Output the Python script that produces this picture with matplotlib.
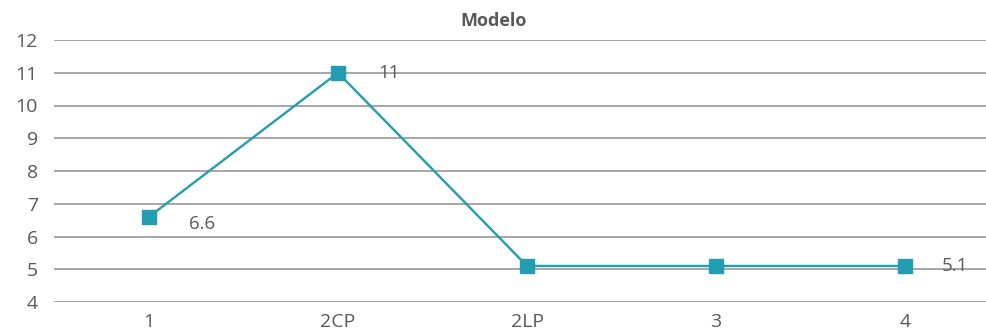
import matplotlib
matplotlib.use("Agg")
from matplotlib import pyplot as plt
import numpy as np

# Series
categories = ["1", "2CP", "2LP", "3", "4"]
values = [6.6, 11, 5.1, 5.1, 5.1]
label_text = ["6.6", "11", "", "", "5.1"]
label_offsets = [(38, -5), (37, 0), (0, 0), (0, 0), (36, 0)]

line_color = "#239DB1"
grid_color = "#A6A6A6"
text_color = "#595959"

plt.rcParams["font.family"] = ["Open Sans", "DejaVu Sans"]

fig = plt.figure(figsize=(9.87, 3.35), dpi=100)
ax = fig.add_axes([54.5 / 987, 33 / 335, (987 - 54.5) / 987, 262 / 335])

x = np.arange(len(categories))
ax.plot(x, values, color=line_color, linewidth=1.7, marker="s",
        markersize=10.5, markerfacecolor=line_color, markeredgecolor=line_color,
        zorder=3, clip_on=False)

for xi, v, txt, off in zip(x, values, label_text, label_offsets):
    if txt:
        ax.annotate(txt, (xi, v), xytext=off, textcoords="offset points",
                    ha="center", va="center", fontsize=13.5, color=text_color)

ax.set_xlim(-0.5, (987 - 149) / 189)
ax.set_ylim(4, 12)
ax.set_yticks(np.arange(4, 13, 1))
ax.set_xticks(x)
ax.set_xticklabels(categories)

for y in range(4, 13):
    ax.axhline(y, color=grid_color, linewidth=1.4, zorder=1)

for s in ax.spines.values():
    s.set_visible(False)
ax.tick_params(axis="both", length=0, labelsize=14, labelcolor=text_color)
ax.tick_params(axis="y", pad=12)
ax.tick_params(axis="x", pad=8)

fig.text(0.5, 1 - 21 / 335, "Modelo", ha="center", va="center",
         fontsize=13, fontweight="bold", color=text_color)

fig.savefig("out.png", dpi=100)
